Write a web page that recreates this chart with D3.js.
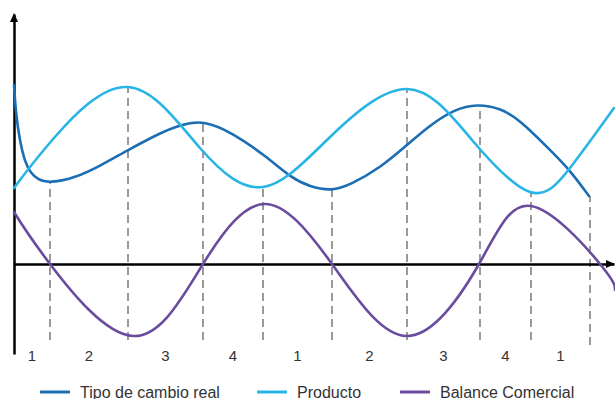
<!DOCTYPE html>
<html>
<head>
<meta charset="utf-8">
<script src="https://cdn.jsdelivr.net/npm/d3@7"></script>
<style>
	body { margin: 0; background: #fff; }
	text { font-family: "Liberation Sans", Arial, sans-serif; }
</style>
</head>
<body>
<div id="chart"></div>
<script>
// [t, valor] (t = time, valor = level, 0 = x axis)
const tipoCambio = [
	[0, 17.9], [2, 14.9], [6, 12.2], [11, 10.2], [16, 9.2], [24, 8.4], [36, 8.1],
	[61, 8.6], [86, 9.8], [114, 11.4], [146, 13.1], [166, 13.9], [189, 14.4],
	[219, 13.1], [253, 10.7], [276, 8.7], [296, 7.7], [318, 7.3], [336, 7.9],
	[366, 9.6], [393, 11.9], [416, 13.9], [441, 15.5], [463, 16.0], [486, 15.6],
	[506, 14.4], [536, 11.4], [555, 9.5], [575, 6.8]
]
// turning points and half-way points only, so the spline stays smooth
const producto = [
	[0, 7.6], [40, 12.6], [114, 17.7], [186, 11.6], [249, 7.7], [315, 12.6],
	[393, 17.5], [458, 12.4], [516, 7.2], [556, 9.6], [600, 15.6]
]
const balanceComercial = [
	[0, 5.2], [36, 0], [119, -7.2], [189, 0], [251, 6.0], [318, 0], [393, -7.2],
	[465, 0], [517, 5.8], [586, 0], [601, -2.6]
]

// phase boundaries and labels
const cycleBounds = [36, 114, 189, 249, 318, 393, 466, 517, 576]
const cycleFrom = [0, 1, 0, 1, 0, 1, 0, 1, 0]
const cycleBottom = [-7.6, -7.6, -7.6, -7.6, -7.6, -7.6, -7.6, -7.6, -8.1]
const cycleLabels = ["1", "2", "3", "4", "1", "2", "3", "4", "1"]

const seriesNames = ["Tipo de cambio real", "Producto", "Balance Comercial"]
const seriesColors = ["#1b6db4", "#29b4e6", "#6a4c9f"]

const width = 615
const height = 399
const x = d3.scaleLinear().domain([0, 600]).range([14, 614])
const y = d3.scaleLinear().domain([-9, 25]).range([354, 14])

const svg = d3.select("#chart").append("svg")
	.attr("width", width)
	.attr("height", height)

const allSeries = [tipoCambio, producto, balanceComercial]
// the steep start of the first curve would make a natural spline overshoot
const curves = [d3.curveBasis, d3.curveNatural, d3.curveNatural]
const lines = curves.map(c => d3.line().x(d => x(d[0])).y(d => y(d[1])).curve(c))

// draw the curves
const paths = svg.append("g")
	.attr("class", "curves")
	.selectAll("path")
	.data(allSeries)
	.join("path")
	.attr("d", (d, i) => lines[i](d))
	.attr("fill", "none")
	.attr("stroke", (d, i) => seriesColors[i])
	.attr("stroke-width", 2.6)
	.attr("stroke-linecap", "round")

// y of a drawn curve at time t (read back from the path)
function curveY(node, t) {
	const len = node.getTotalLength()
	let lo = 0, hi = len
	for (let k = 0; k < 30; k++) {
		const mid = (lo + hi) / 2
		if (node.getPointAtLength(mid).x < x(t)) lo = mid
		else hi = mid
	}
	return node.getPointAtLength(lo).y
}

// dashed phase lines, drawn from the bottom up to the curve
const pathNodes = paths.nodes()
svg.insert("g", ".curves")
	.selectAll("line")
	.data(cycleBounds)
	.join("line")
	.attr("x1", d => x(d))
	.attr("x2", d => x(d))
	.attr("y1", (d, i) => y(cycleBottom[i]))
	.attr("y2", (d, i) => curveY(pathNodes[cycleFrom[i]], d))
	.attr("stroke", "#9a9a9a")
	.attr("stroke-width", 2)
	.attr("stroke-dasharray", "8,5")

// axes
const xAxis = svg.insert("g", ".curves")
	.attr("transform", `translate(0,${y(0)})`)
	.call(d3.axisBottom(x).tickValues([]).tickSizeOuter(0))
xAxis.select(".domain").attr("stroke", "#000").attr("stroke-width", 2.5)

const yAxis = svg.insert("g", ".curves")
	.attr("transform", `translate(${x(0)},0)`)
	.call(d3.axisLeft(y).tickValues([]).tickSizeOuter(0))
yAxis.select(".domain").attr("stroke", "#000").attr("stroke-width", 2.5)

// arrow heads
const xEnd = x.range()[1] + 1
svg.append("path")
	.attr("d", `M${xEnd},${y(0)} l-9,-4 v8 z`)
	.attr("fill", "#000")
const yTop = y.range()[1] - 1
svg.append("path")
	.attr("d", `M${x(0)},${yTop} l-4,9 h8 z`)
	.attr("fill", "#000")

// phase numbers
const mids = cycleBounds.map((b, i) => ((i === 0 ? 0 : cycleBounds[i - 1]) + b) / 2)
svg.append("g")
	.selectAll("text")
	.data(cycleLabels)
	.join("text")
	.attr("x", (d, i) => x(mids[i]))
	.attr("y", 355)
	.attr("text-anchor", "middle")
	.attr("dominant-baseline", "central")
	.attr("font-size", 15)
	.attr("fill", "#333")
	.text(d => d)

// legend
const legendX = [40, 257, 400]
const legend = svg.append("g")
	.selectAll("g")
	.data(seriesNames)
	.join("g")
	.attr("transform", (d, i) => `translate(${legendX[i]},392)`)
legend.append("line")
	.attr("x1", 0).attr("x2", 30)
	.attr("stroke", (d, i) => seriesColors[i])
	.attr("stroke-width", 3)
legend.append("text")
	.attr("x", 40)
	.attr("dominant-baseline", "central")
	.attr("font-size", 16)
	.attr("fill", "#333")
	.text(d => d)
</script>
</body>
</html>
